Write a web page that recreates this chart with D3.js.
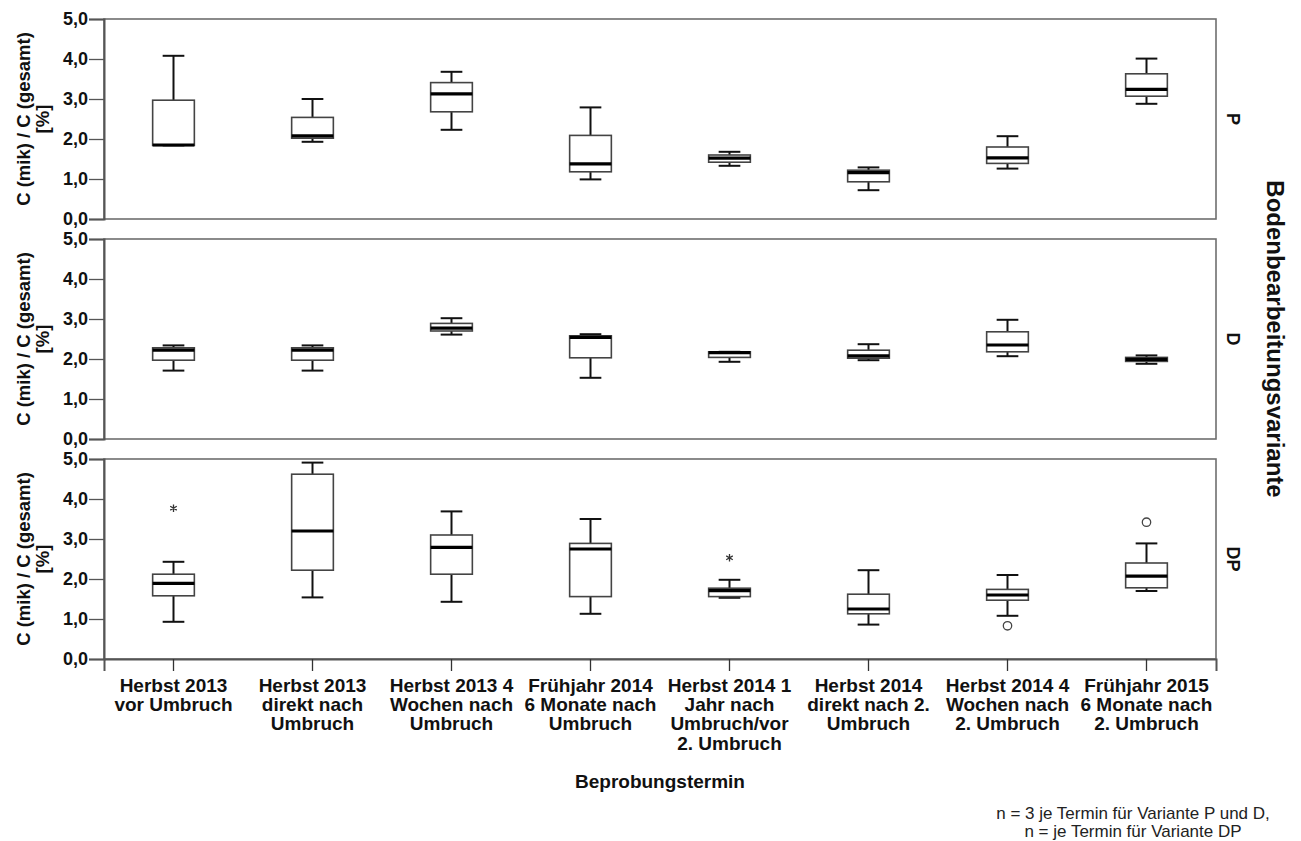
<!DOCTYPE html>
<html>
<head>
<meta charset="utf-8">
<script src="https://cdn.jsdelivr.net/npm/d3@7"></script>
<style>
  html, body { margin: 0; padding: 0; background: #fff; }
  svg { display: block; font-family: Arial, "Liberation Sans", sans-serif; }
</style>
</head>
<body>
<svg id="chart" width="1301" height="841"></svg>
<script>
// ---------- DATA ----------
const categories = ["T1","T2","T3","T4","T5","T6","T7","T8"];
const categoryLabels = [
  ["Herbst 2013","vor Umbruch"],
  ["Herbst 2013","direkt nach","Umbruch"],
  ["Herbst 2013 4","Wochen nach","Umbruch"],
  ["Frühjahr 2014","6 Monate nach","Umbruch"],
  ["Herbst 2014 1","Jahr nach","Umbruch/vor","2. Umbruch"],
  ["Herbst 2014","direkt nach 2.","Umbruch"],
  ["Herbst 2014 4","Wochen nach","2. Umbruch"],
  ["Frühjahr 2015","6 Monate nach","2. Umbruch"]
];
const panels = ["P","D","DP"];
const yTicks = [0,1,2,3,4,5];
const yTickLabels = ["0,0","1,0","2,0","3,0","4,0","5,0"];

// five-number summaries per panel: [min, q1, median, q3, max]
const boxesP = [
  [1.84, 1.84, 1.85, 2.97, 4.08],
  [1.93, 2.02, 2.08, 2.54, 3.00],
  [2.23, 2.68, 3.13, 3.41, 3.68],
  [0.99, 1.18, 1.38, 2.09, 2.79],
  [1.33, 1.42, 1.52, 1.60, 1.68],
  [0.72, 0.93, 1.16, 1.22, 1.29],
  [1.26, 1.39, 1.53, 1.80, 2.07],
  [2.88, 3.07, 3.24, 3.63, 4.01]
];
const boxesD = [
  [1.71, 1.97, 2.22, 2.28, 2.34],
  [1.71, 1.97, 2.22, 2.28, 2.34],
  [2.61, 2.70, 2.77, 2.89, 3.02],
  [1.53, 2.03, 2.54, 2.58, 2.62],
  [1.93, 2.04, 2.16, 2.18, 2.18],
  [1.97, 2.02, 2.08, 2.22, 2.37],
  [2.07, 2.18, 2.35, 2.68, 2.98],
  [1.88, 1.94, 1.99, 2.04, 2.09]
];
const boxesDP = [
  [0.93, 1.58, 1.89, 2.12, 2.43],
  [1.54, 2.22, 3.20, 4.62, 4.91],
  [1.43, 2.12, 2.79, 3.10, 3.69],
  [1.13, 1.56, 2.75, 2.89, 3.50],
  [1.53, 1.56, 1.71, 1.77, 1.98],
  [0.86, 1.13, 1.25, 1.62, 2.22],
  [1.08, 1.47, 1.60, 1.74, 2.10],
  [1.70, 1.78, 2.07, 2.40, 2.89]
];
// outliers
const outlierPanel = ["DP","DP","DP","DP"];
const outlierCat   = [0, 4, 6, 7];
const outlierValue = [3.77, 2.53, 0.83, 3.42];
const outlierType  = ["extreme","extreme","mild","mild"];

const yTitleLines = ["C (mik) / C (gesamt)", "[%]"];
const xTitle = "Beprobungstermin";
const facetTitle = "Bodenbearbeitungsvariante";
const noteLines = ["n = 3 je Termin für Variante P und D,", "n = je Termin für Variante DP"];

// ---------- LAYOUT ----------
const svg = d3.select("#chart");
const left = 104, right = 1216;
const panelTops = [19, 239, 459];
const panelH = 200;
const boxData = {P: boxesP, D: boxesD, DP: boxesDP};

const x = d3.scaleBand().domain(categories).range([left, right]).padding(0);
const boxW = x.bandwidth() * 0.30;
const capW = boxW * 0.52;

panels.forEach((p, pi) => {
  const top = panelTops[pi];
  const y = d3.scaleLinear().domain([0, 5]).range([top + panelH, top]);
  const g = svg.append("g");

  g.append("rect")
    .attr("x", left).attr("y", top)
    .attr("width", right - left).attr("height", panelH)
    .attr("fill", "none").attr("stroke", "#6e6e6e").attr("stroke-width", 1.6);

  const ax = g.append("g").attr("transform", `translate(${left},0)`)
    .call(d3.axisLeft(y).tickValues(yTicks).tickSize(15).tickPadding(1)
      .tickFormat((d, i) => yTickLabels[i]));
  ax.select(".domain").attr("stroke", "#555").attr("stroke-width", 2);
  ax.selectAll(".tick line").attr("stroke", "#555").attr("stroke-width", 1.3);
  ax.selectAll(".tick text")
    .attr("font-size", 18).attr("font-weight", "bold").attr("fill", "#111")
    .attr("font-family", "Arial, 'Liberation Sans', sans-serif");

  const cy = top + panelH / 2;
  yTitleLines.forEach((t, li) => {
    g.append("text")
      .attr("transform", `translate(${30 + li * 19},${cy}) rotate(-90)`)
      .attr("text-anchor", "middle")
      .attr("font-size", 18.5).attr("font-weight", "bold").attr("fill", "#111")
      .text(t);
  });

  g.append("text")
    .attr("transform", `translate(1233,${cy}) rotate(90)`)
    .attr("text-anchor", "middle").attr("dominant-baseline", "central")
    .attr("font-size", 18).attr("font-weight", "bold").attr("fill", "#111")
    .text(p);

  const data = boxData[p];
  const bg = g.selectAll("g.box").data(data).join("g").attr("class", "box");
  bg.each(function(d, i) {
    const cx = x(categories[i]) + x.bandwidth() / 2;
    const s = d3.select(this);
    s.append("line").attr("x1", cx).attr("x2", cx)
      .attr("y1", y(d[3])).attr("y2", y(d[4]))
      .attr("stroke", "#111").attr("stroke-width", 2);
    s.append("line").attr("x1", cx).attr("x2", cx)
      .attr("y1", y(d[0])).attr("y2", y(d[1]))
      .attr("stroke", "#111").attr("stroke-width", 2);
    s.append("line").attr("x1", cx - capW / 2).attr("x2", cx + capW / 2)
      .attr("y1", y(d[4])).attr("y2", y(d[4]))
      .attr("stroke", "#111").attr("stroke-width", 2);
    s.append("line").attr("x1", cx - capW / 2).attr("x2", cx + capW / 2)
      .attr("y1", y(d[0])).attr("y2", y(d[0]))
      .attr("stroke", "#111").attr("stroke-width", 2);
    s.append("rect").attr("x", cx - boxW / 2).attr("y", y(d[3]))
      .attr("width", boxW).attr("height", Math.max(0.5, y(d[1]) - y(d[3])))
      .attr("fill", "#fff").attr("stroke", "#444").attr("stroke-width", 1.6);
    s.append("line").attr("x1", cx - boxW / 2).attr("x2", cx + boxW / 2)
      .attr("y1", y(d[2])).attr("y2", y(d[2]))
      .attr("stroke", "#000").attr("stroke-width", 3.2);
  });

  outlierPanel.forEach((op, k) => {
    if (op !== p) return;
    const cx = x(categories[outlierCat[k]]) + x.bandwidth() / 2;
    const cyv = y(outlierValue[k]);
    if (outlierType[k] === "mild") {
      g.append("circle").attr("cx", cx).attr("cy", cyv).attr("r", 4.2)
        .attr("fill", "none").attr("stroke", "#444").attr("stroke-width", 1.3);
    } else {
      g.append("path").attr("transform", `translate(${cx},${cyv})`)
        .attr("d", d3.symbol(d3.symbolAsterisk, 40)())
        .attr("fill", "none").attr("stroke", "#333").attr("stroke-width", 1.3);
    }
  });

  if (pi === panels.length - 1) {
    const xa = g.append("g").attr("transform", `translate(0,${top + panelH})`)
      .call(d3.axisBottom(x).tickSize(12).tickFormat(""));
    xa.select(".domain").attr("stroke", "#555").attr("stroke-width", 2);
    xa.selectAll(".tick line").attr("stroke", "#333").attr("stroke-width", 1.3);
    categories.forEach((c, i) => {
      const t = g.append("text")
        .attr("x", x(c) + x.bandwidth() / 2).attr("y", top + panelH + 33)
        .attr("text-anchor", "middle")
        .attr("font-size", 19).attr("font-weight", "bold").attr("fill", "#111");
      categoryLabels[i].forEach((ln, li) => {
        t.append("tspan").attr("x", x(c) + x.bandwidth() / 2)
          .attr("dy", li === 0 ? 0 : 19.2).text(ln);
      });
    });
  }
});

svg.append("text").attr("x", (left + right) / 2).attr("y", 788)
  .attr("text-anchor", "middle").attr("font-size", 19).attr("font-weight", "bold")
  .attr("fill", "#111").text(xTitle);

svg.append("text")
  .attr("transform", `translate(1275,${(panelTops[0] + panelTops[2] + panelH) / 2}) rotate(90)`)
  .attr("text-anchor", "middle").attr("dominant-baseline", "central")
  .attr("font-size", 24).attr("font-weight", "bold").attr("fill", "#111")
  .text(facetTitle);

// note (two centred lines)
const note = svg.append("text").attr("x", 1133).attr("y", 819)
  .attr("text-anchor", "middle").attr("font-size", 17).attr("fill", "#222")
  .attr("font-family", "Arial, 'Liberation Sans', sans-serif");
noteLines.forEach((t, i) => {
  note.append("tspan").attr("x", 1133).attr("dy", i === 0 ? 0 : 17.5).text(t);
});
</script>
</body>
</html>
